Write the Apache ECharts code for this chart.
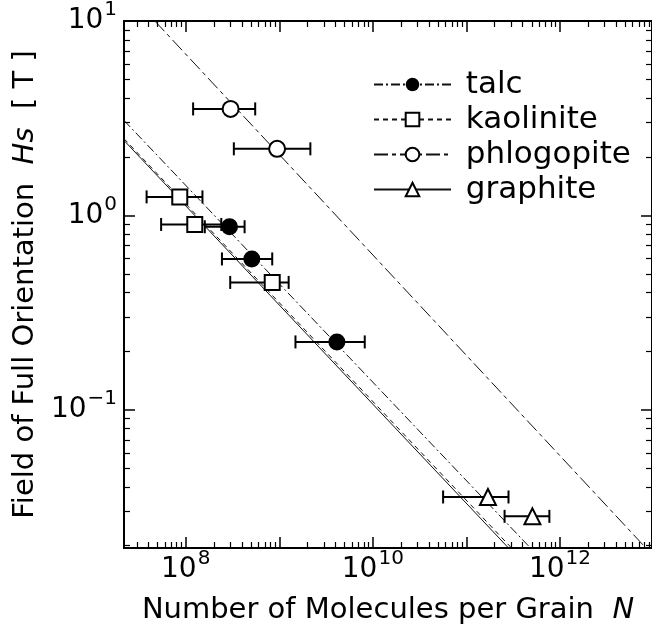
<!DOCTYPE html>
<html>
<head>
<meta charset="utf-8">
<script src="https://cdn.jsdelivr.net/npm/echarts@6/dist/echarts.min.js"></script>
<style>
html,body{margin:0;padding:0;background:#fff;}
#chart{width:652px;height:635px;}
</style>
</head>
<body>
<div id="chart"></div>
<script>
// ---- data ----
const seriesNames = ['talc', 'kaolinite', 'phlogopite', 'graphite'];

const talcN    = [2.94e8, 5.09e8, 4.13e9];
const talcH    = [0.874, 0.597, 0.2234];
const talcNlo  = [1.60e8, 2.44e8, 1.49e9];
const talcNhi  = [4.26e8, 8.41e8, 8.2e9];

const kaolN    = [8.64e7, 1.25e8, 8.41e8];
const kaolH    = [1.245, 0.898, 0.452];
const kaolNlo  = [3.82e7, 5.46e7, 2.99e8];
const kaolNhi  = [1.51e8, 2.40e8, 1.26e9];

const phloN    = [3.02e8, 9.48e8];
const phloH    = [3.53, 2.20];
const phloNlo  = [1.20e8, 3.27e8];
const phloNhi  = [5.53e8, 2.15e9];

const graphN   = [1.70e11, 5.08e11];
const graphH   = [0.0356, 0.0283];
const graphNlo = [5.64e10, 2.56e11];
const graphNhi = [2.82e11, 7.71e11];

// fitted power-law lines: two end points each [N, Hs]
const talcFitN  = [2.19e7, 4.84e11];
const talcFitH  = [3.08, 0.01945];
const kaolFitN  = [2.19e7, 3.04e11];
const kaolFitH  = [2.48, 0.01945];
const phloFitN  = [4.68e7, 8.3e12];
const phloFitH  = [10, 0.01945];
const graphFitN = [2.19e7, 2.82e11];
const graphFitH = [2.43, 0.01945];

// axis ranges and tick labels (powers of ten)
const xRange = [2.19e7, 9.64e12];
const yRange = [0.01945, 10];
const xLabelExps = [8, 10, 12];
const yLabelExps = [-1, 0, 1];

// ---- build ----
const L = Math.log10;
const FONT = 'DejaVu Sans';
function pts(xs, ys) { return xs.map((x, i) => [L(x), L(ys[i])]); }
function errs(lo, hi, ys) { return lo.map((l, i) => [L(l), L(hi[i]), L(ys[i])]); }
function decadeTicks(r) {
  const a = L(r[0]), b = L(r[1]);
  const maj = [], min = [];
  for (let e = Math.floor(a); e <= Math.ceil(b); e++) {
    if (e >= a - 1e-9 && e <= b + 1e-9) maj.push(e);
    for (let k = 2; k <= 9; k++) {
      const v = e + L(k);
      if (v > a && v < b) min.push(v);
    }
  }
  return { maj, min };
}
const xt = decadeTicks(xRange), yt = decadeTicks(yRange);

const rich = {
  b: { fontFamily: FONT, fontSize: 28, color: '#000', lineHeight: 28 },
  s: { fontFamily: FONT, fontSize: 20, color: '#000', lineHeight: 20, padding: [0, 0, 22, 1] }
};
function expLabel(v) {
  const e = Math.round(v);
  return '{b|10}{s|' + (e < 0 ? '\u2212' + (-e) : e) + '}';
}

function axisPair(dim, pos, r, t, withLabels) {
  const base = {
    type: 'value', position: pos,
    min: L(r[0]), max: L(r[1]),
    splitLine: { show: false },
    axisLine: { show: true, onZero: false, lineStyle: { color: '#000', width: 2 } },
    axisPointer: { show: false }
  };
  const major = Object.assign({}, base, {
    axisTick: { show: true, inside: true, length: 11, customValues: t.maj, lineStyle: { color: '#000', width: 1.5 } },
    axisLabel: withLabels ? {
      show: true, customValues: dim === 'x' ? xLabelExps : yLabelExps,
      formatter: expLabel, rich: rich, margin: dim === 'x' ? 8 : 7
    } : { show: false }
  });
  const minor = Object.assign({}, base, {
    axisLine: { show: false, onZero: false },
    axisTick: { show: true, inside: true, length: 6, customValues: t.min, lineStyle: { color: '#000', width: 1.2 } },
    axisLabel: { show: false }
  });
  return [major, minor];
}

const xAxes = [].concat(axisPair('x', 'bottom', xRange, xt, true), axisPair('x', 'top', xRange, xt, false));
const yAxes = [].concat(axisPair('y', 'left', yRange, yt, true), axisPair('y', 'right', yRange, yt, false));

xAxes[0].name = 'Number of Molecules per Grain  {i|N}';
xAxes[0].nameLocation = 'middle';
xAxes[0].nameGap = 47;
xAxes[0].nameTextStyle = { fontFamily: FONT, fontSize: 29, color: '#000',
  rich: { i: { fontFamily: FONT, fontSize: 29, fontStyle: 'italic', color: '#000' } } };

yAxes[0].name = 'Field of Full Orientation  {i|Hs}  [ T ]';
yAxes[0].nameLocation = 'middle';
yAxes[0].nameGap = 80;
yAxes[0].nameTextStyle = { fontFamily: FONT, fontSize: 29, color: '#000',
  rich: { i: { fontFamily: FONT, fontSize: 29, fontStyle: 'italic', color: '#000' } } };

const lineColor = '#111';
const fits = [
  { name: 'talc', n: talcFitN, h: talcFitH, dash: [9, 3, 2, 3], symbol: 'circle' },
  { name: 'kaolinite', n: kaolFitN, h: kaolFitH, dash: [5, 4], symbol: 'emptyRect' },
  { name: 'phlogopite', n: phloFitN, h: phloFitH, dash: [14, 4, 4, 4], symbol: 'emptyCircle' },
  { name: 'graphite', n: graphFitN, h: graphFitH, dash: 'solid', symbol: 'emptyTriangle' }
];
const pointSets = [
  { name: 'talc', n: talcN, h: talcH, lo: talcNlo, hi: talcNhi, symbol: 'circle', fill: '#000', size: 15 },
  { name: 'kaolinite', n: kaolN, h: kaolH, lo: kaolNlo, hi: kaolNhi, symbol: 'rect', fill: '#fff', size: 15 },
  { name: 'phlogopite', n: phloN, h: phloH, lo: phloNlo, hi: phloNhi, symbol: 'circle', fill: '#fff', size: 16 },
  { name: 'graphite', n: graphN, h: graphH, lo: graphNlo, hi: graphNhi, symbol: 'triangle', fill: '#fff', size: 16 }
];

const series = [];
fits.forEach(f => {
  series.push({
    type: 'line', name: f.name, data: pts(f.n, f.h),
    showSymbol: false, symbol: f.symbol, symbolSize: 14,
    itemStyle: { color: '#000' },
    lineStyle: { color: lineColor, width: 1, type: f.dash },
    silent: true, z: 2
  });
});
pointSets.forEach(p => {
  series.push({
    type: 'custom', name: p.name + ' error',
    data: errs(p.lo, p.hi, p.h),
    encode: { x: [0, 1], y: 2 },
    renderItem: function (params, api) {
      const a = api.coord([api.value(0), api.value(2)]);
      const b = api.coord([api.value(1), api.value(2)]);
      const c = 6.5;
      const st = { stroke: '#000', lineWidth: 2 };
      return { type: 'group', children: [
        { type: 'line', shape: { x1: a[0], y1: a[1], x2: b[0], y2: b[1] }, style: st },
        { type: 'line', shape: { x1: a[0], y1: a[1] - c, x2: a[0], y2: a[1] + c }, style: st },
        { type: 'line', shape: { x1: b[0], y1: b[1] - c, x2: b[0], y2: b[1] + c }, style: st }
      ] };
    },
    silent: true, z: 3
  });
  series.push({
    type: 'scatter', name: p.name + ' points', data: pts(p.n, p.h),
    symbol: p.symbol, symbolSize: p.size,
    itemStyle: { color: p.fill, borderColor: '#000', borderWidth: 2, opacity: 1 },
    silent: true, z: 4
  });
});

const chart = echarts.init(document.getElementById('chart'), null, { renderer: 'canvas' });
chart.setOption({
  animation: false,
  backgroundColor: '#fff',
  grid: { left: 124, top: 18, width: 530, height: 530, containLabel: false },
  xAxis: xAxes,
  yAxis: yAxes,
  legend: {
    data: seriesNames, orient: 'vertical', left: 368, top: 62,
    itemWidth: 77, itemHeight: 17, itemGap: 0, selectedMode: false,
    formatter: n => ' ' + n,
    textStyle: { fontFamily: FONT, fontSize: 31, color: '#000', lineHeight: 35 }
  },
  series: series
});
</script>
</body>
</html>
